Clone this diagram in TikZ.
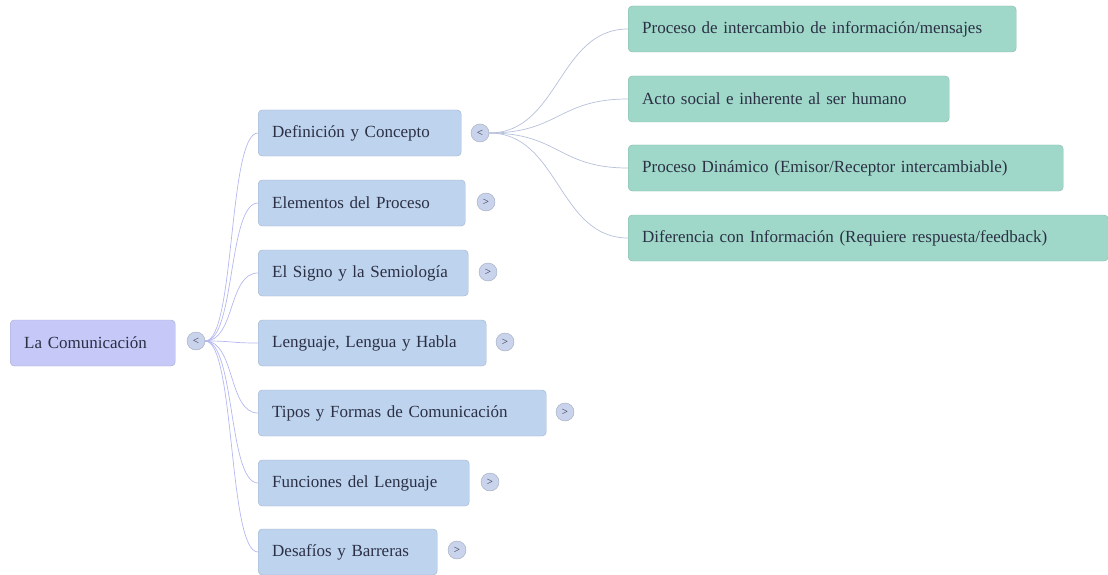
\documentclass[tikz,border=0pt]{standalone}
\usepackage{fontspec}
\setmainfont{Liberation Serif}
\begin{document}
\begin{tikzpicture}[x=1pt,y=-1pt,
  every node/.style={font=\fontsize{17}{20}\selectfont, text=textcol},
  topic/.style={rounded corners=4pt, anchor=west, minimum height=46pt, inner xsep=14pt, align=left},
  rootbox/.style={topic, fill=rootfill, draw=rootfill!85!black, line width=0.4pt},
  subbox/.style={topic, fill=subfill, draw=subfill!85!black, line width=0.4pt},
  leafbox/.style={topic, fill=leaffill, draw=leaffill!85!black, line width=0.4pt},
  toggle/.style={circle, minimum size=18pt, inner sep=0pt, fill=togglefill, draw=togglefill!80!black, line width=0.4pt, font=\fontsize{11}{11}\selectfont},
  rootlink/.style={draw=rootlinkcol, line width=0.7pt},
  leaflink/.style={draw=leaflinkcol, line width=0.7pt}
]
\definecolor{textcol}{HTML}{2B3045}
\definecolor{rootfill}{HTML}{C6C8F7}
\definecolor{subfill}{HTML}{BED3EE}
\definecolor{leaffill}{HTML}{9FD8C8}
\definecolor{togglefill}{HTML}{C9D3EC}
\definecolor{rootlinkcol}{HTML}{B4B8F0}
\definecolor{leaflinkcol}{HTML}{B6C0DA}
\useasboundingbox (0,0) rectangle (1108,575);

% root
\node[rootbox, text width=137pt] (root) at (10,343) {La Comunicación};
\node[toggle] (rt) at (196,341) {<};

% first level
\node[subbox, text width=175pt] (s1) at (258,133) {Definición y Concepto};
\node[subbox, text width=179pt] (s2) at (258,203) {Elementos del Proceso};
\node[subbox, text width=182pt] (s3) at (258,273) {El Signo y la Semiología};
\node[subbox, text width=200pt] (s4) at (258,343) {Lenguaje, Lengua y Habla};
\node[subbox, text width=260pt] (s5) at (258,413) {Tipos y Formas de Comunicación};
\node[subbox, text width=183pt] (s6) at (258,483) {Funciones del Lenguaje};
\node[subbox, text width=151pt] (s7) at (258,552) {Desafíos y Barreras};

\node[toggle] (t1) at (480,133) {<};
\node[toggle] (t2) at (486,202) {>};
\node[toggle] (t3) at (488,272) {>};
\node[toggle] (t4) at (505,342) {>};
\node[toggle] (t5) at (565,412) {>};
\node[toggle] (t6) at (490,482) {>};
\node[toggle] (t7) at (457,550) {>};

% second level
\node[leafbox, text width=360pt] (l1) at (628,29) {Proceso de intercambio de información/mensajes};
\node[leafbox, text width=293pt] (l2) at (628,99) {Acto social e inherente al ser humano};
\node[leafbox, text width=407pt] (l3) at (628,168) {Proceso Dinámico (Emisor/Receptor intercambiable)};
\node[leafbox, text width=452pt] (l4) at (628,238) {Diferencia con Información (Requiere respuesta/feedback)};

% connectors
\foreach \s in {s1,s2,s3,s4,s5,s6,s7}
  \draw[rootlink] (rt.east) .. controls +(30,0) and ([xshift=-30pt]\s.west) .. (\s.west);
\foreach \l in {l1,l2,l3,l4}
  \draw[leaflink] (t1.east) .. controls +(70,0) and ([xshift=-70pt]\l.west) .. (\l.west);
\end{tikzpicture}
\end{document}
